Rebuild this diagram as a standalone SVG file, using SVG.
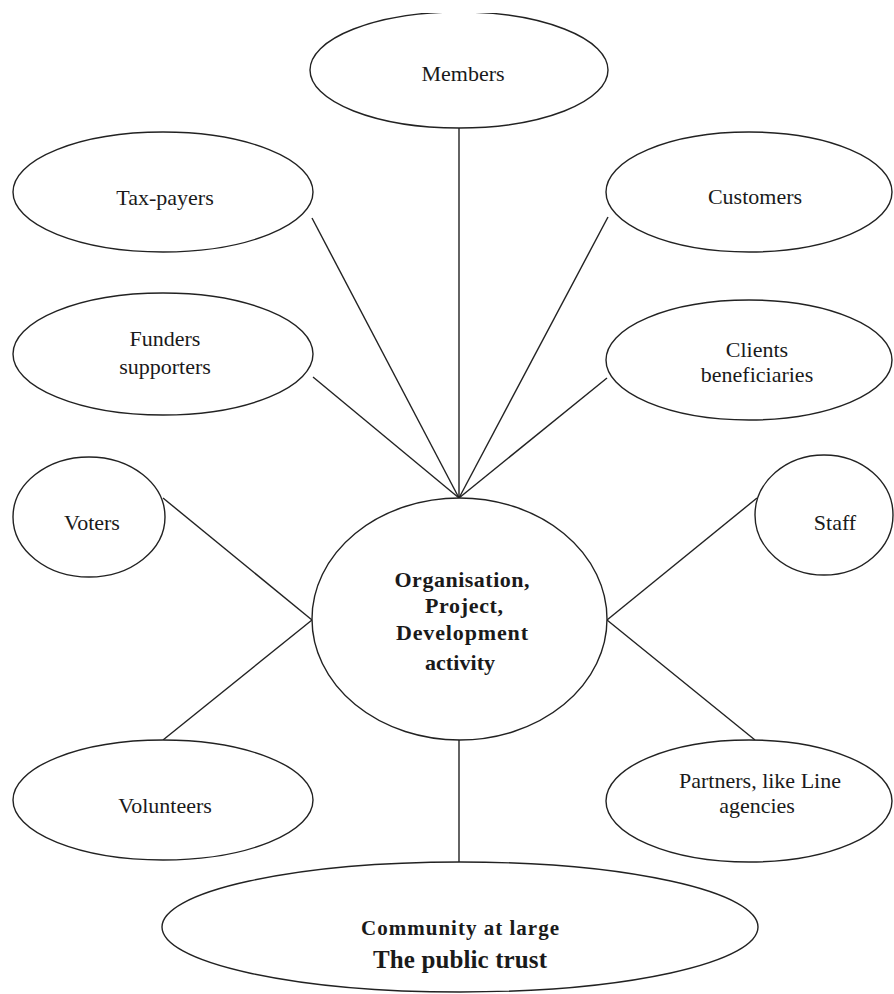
<svg xmlns="http://www.w3.org/2000/svg" width="894" height="994" viewBox="0 0 894 994">
<style>
  .node ellipse { fill: #ffffff; stroke: #222222; stroke-width: 1.4; }
  .conn line { stroke: #222222; stroke-width: 1.4; }
  text { font-family: "Liberation Serif", "Times New Roman", serif; fill: #1a1a1a; text-anchor: middle; }
  .r { font-size: 22px; }
  .b { font-size: 22px; font-weight: bold; }
</style>
<defs>
  <clipPath id="topclip"><rect x="0" y="13" width="894" height="981"/></clipPath>
</defs>
<rect x="0" y="0" width="894" height="994" fill="#ffffff"/>
<g id="connectors" class="conn">
  <line x1="459" y1="128" x2="459" y2="498"/>
  <line x1="312" y1="218" x2="459" y2="498"/>
  <line x1="313" y1="377" x2="459" y2="498"/>
  <line x1="608" y1="217" x2="459" y2="498"/>
  <line x1="607" y1="378" x2="459" y2="498"/>
  <line x1="163" y1="498" x2="312" y2="620"/>
  <line x1="163" y1="740" x2="312" y2="620"/>
  <line x1="757" y1="498" x2="607" y2="620"/>
  <line x1="755" y1="740" x2="607" y2="620"/>
  <line x1="459" y1="740" x2="459" y2="862"/>
</g>
<g id="members" class="node">
  <ellipse cx="459" cy="70" rx="149" ry="58" clip-path="url(#topclip)"/>
  <text class="r" x="463" y="81">Members</text>
</g>
<g id="taxpayers" class="node">
  <ellipse cx="163" cy="192" rx="150" ry="60"/>
  <text class="r" x="165" y="205">Tax-payers</text>
</g>
<g id="customers" class="node">
  <ellipse cx="749" cy="192" rx="143" ry="60"/>
  <text class="r" x="755" y="204">Customers</text>
</g>
<g id="funders" class="node">
  <ellipse cx="163" cy="354" rx="150" ry="61"/>
  <text class="r" x="165" y="346">Funders</text>
  <text class="r" x="165" y="374">supporters</text>
</g>
<g id="clients" class="node">
  <ellipse cx="749" cy="360" rx="143" ry="60"/>
  <text class="r" x="757" y="357">Clients</text>
  <text class="r" x="757" y="382">beneficiaries</text>
</g>
<g id="voters" class="node">
  <ellipse cx="89" cy="517" rx="76" ry="60"/>
  <text class="r" x="92" y="530">Voters</text>
</g>
<g id="staff" class="node">
  <ellipse cx="824" cy="515" rx="69" ry="60"/>
  <text class="r" x="835" y="530">Staff</text>
</g>
<g id="organisation" class="node">
  <ellipse cx="459.5" cy="619" rx="147.5" ry="121"/>
  <text class="b" x="462" y="587" textLength="135">Organisation,</text>
  <text class="b" x="464" y="613" textLength="78">Project,</text>
  <text class="b" x="462" y="640" textLength="132">Development</text>
  <text class="b" x="460" y="670" textLength="70">activity</text>
</g>
<g id="volunteers" class="node">
  <ellipse cx="163" cy="800" rx="150" ry="60"/>
  <text class="r" x="165" y="813">Volunteers</text>
</g>
<g id="partners" class="node">
  <ellipse cx="749" cy="801" rx="143" ry="61"/>
  <text class="r" x="760" y="788">Partners, like Line</text>
  <text class="r" x="757" y="813">agencies</text>
</g>
<g id="community" class="node">
  <ellipse cx="460" cy="927" rx="298" ry="65"/>
  <text class="b" x="460" y="935" style="font-size:21px" textLength="198">Community at large</text>
  <text class="b" x="460" y="968" style="font-size:25px" textLength="174">The public trust</text>
</g>
</svg>
